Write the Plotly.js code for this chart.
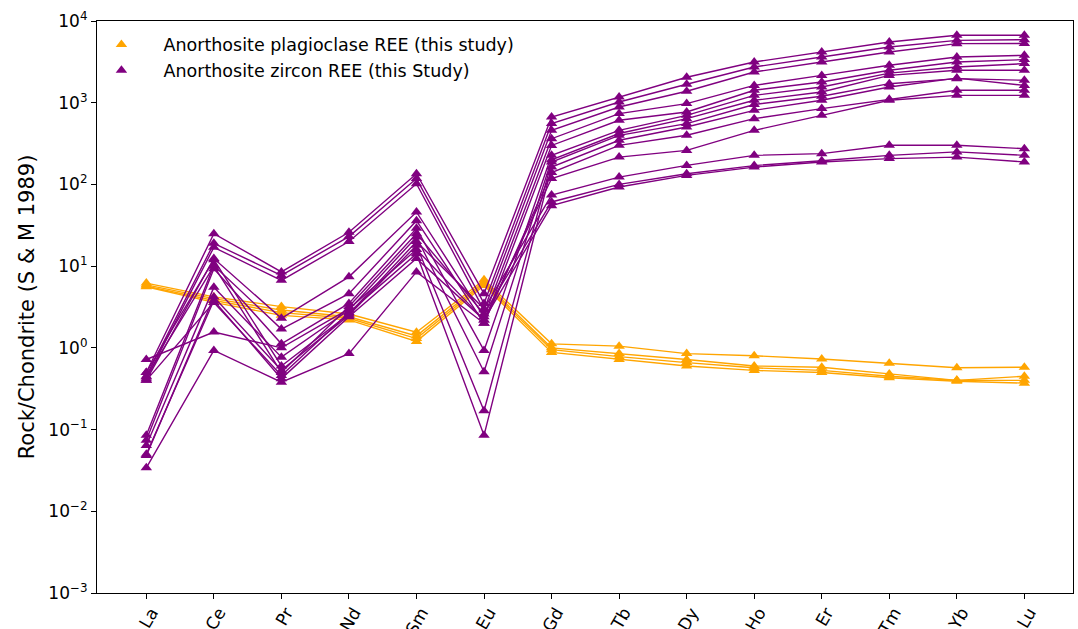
<!DOCTYPE html>
<html>
<head>
<meta charset="utf-8">
<script src="https://cdn.plot.ly/plotly-3.0.1.min.js"></script>
<style>html,body{margin:0;padding:0;background:#fff;}#chart{width:1078px;height:629px;}</style>
</head>
<body>
<div id="chart"></div>
<script>
const elements = ["La","Ce","Pr","Nd","Sm","Eu","Gd","Tb","Dy","Ho","Er","Tm","Yb","Lu"];
const yTickExponents = [-3, -2, -1, 0, 1, 2, 3, 4];

// Anorthosite plagioclase REE (chondrite-normalised)
const plag1 = [6.2, 4.2, 3.2, 2.6, 1.55, 6.8, 1.12, 1.05, 0.85, 0.80, 0.73, 0.65, 0.57, 0.58];
const plag2 = [5.9, 4.0, 2.9, 2.4, 1.40, 6.4, 1.00, 0.85, 0.72, 0.60, 0.58, 0.48, 0.40, 0.45];
const plag3 = [5.7, 3.8, 2.7, 2.3, 1.30, 6.1, 0.95, 0.78, 0.66, 0.57, 0.53, 0.45, 0.40, 0.40];
const plag4 = [5.6, 3.6, 2.5, 2.2, 1.20, 5.8, 0.88, 0.72, 0.60, 0.53, 0.50, 0.43, 0.39, 0.37];

// Anorthosite zircon REE (chondrite-normalised)
const zrc1  = [0.50, 25,   8.5,  26,   135,  4.6,  668, 1175, 2050, 3150, 4180, 5530, 6680, 6700];
const zrc2  = [0.45, 19,   7.7,  23,   118,  3.5,  555, 1020, 1680, 2735, 3625, 4810, 5800, 5900];
const zrc3  = [0.42, 17,   6.7,  20,   102,  2.9,  459,  887, 1380, 2375, 3150, 4180, 5280, 5300];
const zrc4  = [0.40, 12.4, 2.3,  7.4,  46,   2.4,  363,  736,  975, 1630, 2160, 2870, 3625, 3800];
const zrc5  = [0.085,10.2, 1.7,  4.6,  36,   2.0,  300,  610,  770, 1420, 1790, 2500, 3150, 3370];
const zrc6  = [0.074, 9.3, 1.12, 3.5,  29,   0.93, 227,  459,  700, 1230, 1556, 2300, 2735, 3010];
const zrc7  = [0.064, 5.5, 0.77, 2.9,  22.7, 0.51, 200,  420,  638, 1070, 1352, 2160, 2500, 2500];
const zrc8  = [0.048, 4.2, 0.53, 2.5,  18,   0.17, 188,  399,  555,  950, 1200, 1710, 1970, 1880];
const zrc9  = [0.40,  3.6, 0.46, 2.7,  14.2, 0.085,163,  347,  505,  807, 1070, 1556, 2000, 1630];
const zrc10 = [0.034, 0.93,0.38, 0.85, 8.5,  2.0,  140,  301,  400,  638,  847, 1100, 1420, 1420];
const zrc11 = [0.72,  1.56,1.0,  3.0,  16,   2.2,  118,  216,  261,  459,  701, 1070, 1230, 1230];
const zrc12 = [0.50,  12,  0.60, 2.6,  20,   3.0,   74,  123,  171,  227,  238,  301,  301,  274];
const zrc13 = [0.44,  10,  0.50, 3.2,  25,   2.6,   61,  100,  135,  170,  195,  227,  250,  227];
const zrc14 = [0.050, 3.8, 0.42, 2.4,  12.4, 2.2,   55,   93,  129,  163,  188,  207,  216,  188];

const plagSeries = [plag1, plag2, plag3, plag4];
const zrcSeries = [zrc1, zrc2, zrc3, zrc4, zrc5, zrc6, zrc7, zrc8, zrc9, zrc10, zrc11, zrc12, zrc13, zrc14];

const plagName = "Anorthosite plagioclase REE (this study)";
const zrcName = "Anorthosite zircon REE (this Study)";
const orange = "#FFA500";
const purple = "#800080";
const FF = "DejaVu Sans, sans-serif";

const traces = [];
function addGroup(series, color) {
  series.forEach(function (vals) {
    traces.push({
      x: elements, y: vals, type: "scatter", mode: "lines+markers",
      line: {color: color, width: 1.4},
      marker: {symbol: "triangle-up", size: 10, color: color},
      showlegend: false, hoverinfo: "skip"
    });
  });
}
addGroup(plagSeries, orange);
addGroup(zrcSeries, purple);
// legend entries (marker only)
traces.push({x: [null], y: [null], type: "scatter", mode: "markers", name: plagName,
  marker: {symbol: "triangle-up", size: 10, color: orange}, showlegend: true});
traces.push({x: [null], y: [null], type: "scatter", mode: "markers", name: zrcName,
  marker: {symbol: "triangle-up", size: 10, color: purple}, showlegend: true});

// tick positions
const yTickVals = yTickExponents.map(function (e) { return Math.pow(10, e); });
const yTickText = yTickExponents.map(function (e) {
  return "10<sup>" + (e < 0 ? "\u2212" + (-e) : String(e)) + "</sup>";
});
const yMinorVals = [];
for (let e = -3; e < 4; e++) {
  for (let m = 2; m <= 9; m++) yMinorVals.push(m * Math.pow(10, e));
}

const layout = {
  width: 1078, height: 629,
  margin: {l: 97, r: 4.5, t: 20.7, b: 36.3, pad: 0},
  paper_bgcolor: "#fff", plot_bgcolor: "#fff",
  font: {family: FF, size: 17, color: "#000"},
  showlegend: true,
  legend: {x: -0.018, y: 0.99, xanchor: "left", yanchor: "top", bgcolor: "rgba(0,0,0,0)",
    borderwidth: 0, itemwidth: 74, font: {family: FF, size: 17.5, color: "#000"},
    tracegroupgap: 0},
  xaxis: {
    type: "category", range: [-0.73, 13.72], showgrid: false, zeroline: false,
    showline: true, linecolor: "#000", linewidth: 1.1, mirror: true,
    ticks: "outside", ticklen: 5, tickwidth: 1, tickcolor: "#000",
    tickangle: -60, tickfont: {family: FF, size: 17, color: "#000"},
    ticklabelshift: 5, ticklabelstandoff: -3,
    automargin: false
  },
  yaxis: {
    type: "log", range: [-3, 4], showgrid: false, zeroline: false,
    showline: true, linecolor: "#000", linewidth: 1.1, mirror: true,
    ticks: "outside", ticklen: 5, tickwidth: 1, tickcolor: "#000",
    tickmode: "array", tickvals: yTickVals, ticktext: yTickText,
    tickfont: {family: FF, size: 17, color: "#000"},
    title: {text: "Rock/Chondrite (S & M 1989)", font: {family: FF, size: 21, color: "#000"}, standoff: 8},
    automargin: false
  },
  yaxis2: {
    type: "log", range: [-3, 4], overlaying: "y", side: "left", showgrid: false, zeroline: false,
    showline: false, ticks: "outside", ticklen: 3, tickwidth: 0.8, tickcolor: "#000",
    tickmode: "array", tickvals: yMinorVals, showticklabels: false, automargin: false
  }
};

Plotly.newPlot("chart", traces, layout, {displayModeBar: false, staticPlot: true});
</script>
</body>
</html>
